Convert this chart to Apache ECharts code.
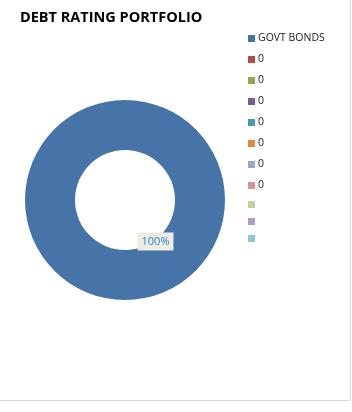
<!DOCTYPE html>
<html>
<head>
<meta charset="utf-8">
<script src="https://cdn.jsdelivr.net/npm/echarts@6/dist/echarts.min.js"></script>
<style>
  html, body { margin: 0; padding: 0; background: #ffffff; }
  #chart { width: 352px; height: 412px; }
</style>
</head>
<body>
<div id="chart"></div>
<script>
// Portfolio split by debt rating
const categories = ['GOVT BONDS', '0', '0', '0', '0', '0', '0', '0', '', '', ''];
const values = [100, 0, 0, 0, 0, 0, 0, 0, 0, 0, 0];
const palette = ['#4673a8', '#b24b48', '#8fa94f', '#735d93', '#4699b1', '#e1873f',
                 '#93a9d1', '#d69594', '#bcd39b', '#ab9dc6', '#93c5d7'];

// Legend entries need unique keys; the visible text comes from categories.
const keys = categories.map((c, i) => 'k' + i);

const data = values.map((v, i) => ({
  name: keys[i],
  value: v,
  itemStyle: { color: palette[i] },
  label: { show: i === 0 },
  labelLine: { show: false }
}));

const chart = echarts.init(document.getElementById('chart'), null, { renderer: 'canvas' });
chart.setOption({
  animation: false,
  title: {
    text: 'DEBT RATING PORTFOLIO',
    left: 15,
    top: 5,
    textStyle: { fontFamily: 'Open Sans', fontWeight: 'bold', fontSize: 14.5, color: '#000000' }
  },
  legend: {
    orient: 'vertical',
    left: 243,
    top: 28,
    itemWidth: 7,
    itemHeight: 7,
    itemGap: 10,
    selectedMode: false,
    icon: 'rect',
    data: keys,
    formatter: name => categories[keys.indexOf(name)],
    textStyle: { fontFamily: 'Open Sans', fontSize: 10.5, color: '#1a1a1a', padding: [0, 0, 0, -2] }
  },
  graphic: [{
    type: 'rect',
    shape: { x: -1, y: -1, width: 351.5, height: 401.5 },
    style: { fill: 'none', stroke: '#d9d9d9', lineWidth: 1 },
    silent: true
  }],
  series: [{
    type: 'pie',
    center: [125, 200],
    radius: [50, 100],
    startAngle: 90,
    data: data,
    label: {
      position: 'inside',
      formatter: '{d}%',
      fontFamily: 'Open Sans',
      fontSize: 11,
      color: '#2b82cc',
      backgroundColor: '#eeece2',
      padding: [4, 4, 3, 4]
    },
    labelLayout: function () {
      return { x: 155.5, y: 241.5, align: 'center', verticalAlign: 'middle' };
    },
    emphasis: { disabled: true }
  }]
});
</script>
</body>
</html>
